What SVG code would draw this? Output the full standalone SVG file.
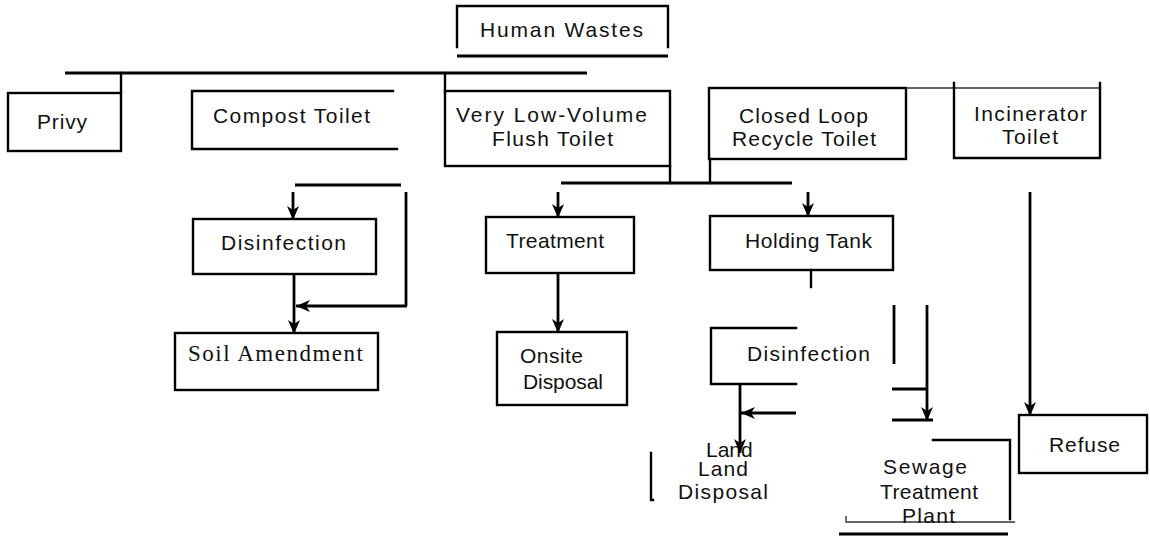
<svg xmlns="http://www.w3.org/2000/svg" width="1150" height="538" viewBox="0 0 1150 538">
<style>
  .b{fill:none;stroke:#000;stroke-width:2.4;stroke-linecap:square}
  .c{fill:none;stroke:#000;stroke-width:2.8}
  .thin{fill:none;stroke:#333;stroke-width:1.4}
  .t{font-family:"Liberation Sans",Arial,sans-serif;font-size:21px;fill:#111}
  .s{font-family:"Liberation Serif","Times New Roman",serif;font-size:23px;fill:#111}
</style>
<defs>
  <marker id="ah" viewBox="0 0 14 12" refX="14" refY="6" markerWidth="14" markerHeight="12" markerUnits="userSpaceOnUse" orient="auto">
    <path d="M0,0 L14,6 L0,12 L4,6 z" fill="#000"/>
  </marker>
</defs>
<rect width="1150" height="538" fill="#fff"/>

<g id="human-wastes">
  <path class="b" d="M457,47 V6 H668 V47"/>
  <line class="c" x1="457" y1="56" x2="668" y2="56"/>
  <text class="t" x="480" y="37" textLength="163" lengthAdjust="spacing">Human Wastes</text>
</g>
<g id="privy">
  <rect class="b" x="8" y="93" width="113" height="58"/>
  <text class="t" x="37" y="129" textLength="50" lengthAdjust="spacing">Privy</text>
</g>
<g id="compost-toilet">
  <path class="b" d="M393,91 H192 V149 H397"/>
  <text class="t" x="213" y="123" textLength="157" lengthAdjust="spacing">Compost Toilet</text>
</g>
<g id="flush-toilet">
  <rect class="b" x="445" y="91" width="225" height="75"/>
  <text class="t" x="456" y="122" textLength="191" lengthAdjust="spacing">Very Low-Volume</text>
  <text class="t" x="492" y="146" textLength="121" lengthAdjust="spacing">Flush Toilet</text>
</g>
<g id="closed-loop-toilet">
  <rect class="b" x="709" y="88" width="197" height="71"/>
  <text class="t" x="739" y="123" textLength="129" lengthAdjust="spacing">Closed Loop</text>
  <text class="t" x="732" y="146" textLength="144" lengthAdjust="spacing">Recycle Toilet</text>
</g>
<g id="incinerator-toilet">
  <line class="thin" x1="906" y1="88" x2="1100" y2="88"/>
  <path class="b" d="M954,83 V158 H1100 V83"/>
  <text class="t" x="974" y="121" textLength="113" lengthAdjust="spacing">Incinerator</text>
  <text class="t" x="1002" y="144" textLength="56" lengthAdjust="spacing">Toilet</text>
</g>
<g id="disinfection-1">
  <rect class="b" x="193" y="219" width="183" height="55"/>
  <text class="t" x="221" y="250" textLength="125" lengthAdjust="spacing">Disinfection</text>
</g>
<g id="soil-amendment">
  <rect class="b" x="175" y="333" width="203" height="57"/>
  <text class="s" x="188" y="361" textLength="175" lengthAdjust="spacing">Soil Amendment</text>
</g>
<g id="treatment">
  <rect class="b" x="486" y="217" width="148" height="56"/>
  <text class="t" x="506" y="248" textLength="98" lengthAdjust="spacing">Treatment</text>
</g>
<g id="onsite-disposal">
  <rect class="b" x="497" y="332" width="130" height="73"/>
  <text class="t" x="520" y="363" textLength="63" lengthAdjust="spacing">Onsite</text>
  <text class="t" x="523" y="389" textLength="80" lengthAdjust="spacing">Disposal</text>
</g>
<g id="holding-tank">
  <rect class="b" x="710" y="216" width="183" height="54"/>
  <text class="t" x="745" y="248" textLength="127" lengthAdjust="spacing">Holding Tank</text>
</g>
<g id="disinfection-2">
  <path class="b" d="M796,328 H711 V384 H796"/>
  <text class="t" x="747" y="361" textLength="123" lengthAdjust="spacing">Disinfection</text>
</g>
<g id="land-disposal">
  <path class="b" d="M651,453 V500 H653"/>
  <text class="t" x="706" y="457" font-size="13">Land</text>
  <text class="t" x="698" y="476" textLength="50" lengthAdjust="spacing">Land</text>
  <text class="t" x="678" y="499" textLength="90" lengthAdjust="spacing">Disposal</text>
</g>
<g id="sewage-treatment-plant">
  <path class="b" d="M933,440 H1010 V519"/>
  <path class="thin" d="M846,516 V522 H1015"/>
  <line class="c" x1="839" y1="534" x2="1008" y2="534"/>
  <text class="t" x="883" y="474" textLength="84" lengthAdjust="spacing">Sewage</text>
  <text class="t" x="880" y="499" textLength="98" lengthAdjust="spacing">Treatment</text>
  <text class="t" x="902" y="523" textLength="53" lengthAdjust="spacing">Plant</text>
</g>
<g id="refuse">
  <rect class="b" x="1019" y="415" width="128" height="58"/>
  <text class="t" x="1049" y="452" textLength="71" lengthAdjust="spacing">Refuse</text>
</g>

<g id="connectors">
  <line class="c" x1="65" y1="73" x2="587" y2="73"/>
  <line class="b" x1="121" y1="73" x2="121" y2="93"/>
  <line class="b" x1="445" y1="73" x2="445" y2="91"/>
  <line class="b" x1="670" y1="166" x2="670" y2="183"/>
  <line class="b" x1="710" y1="159" x2="710" y2="183"/>
  <line class="c" x1="561" y1="183" x2="792" y2="183"/>
  <line class="c" x1="558" y1="192" x2="558" y2="218" marker-end="url(#ah)"/>
  <line class="c" x1="808" y1="192" x2="808" y2="217" marker-end="url(#ah)"/>
  <line class="b" x1="811" y1="270" x2="811" y2="287"/>
  <line class="c" x1="558" y1="273" x2="558" y2="333" marker-end="url(#ah)"/>
  <line class="c" x1="295" y1="185" x2="401" y2="185"/>
  <line class="c" x1="293" y1="192" x2="293" y2="220" marker-end="url(#ah)"/>
  <line class="c" x1="406" y1="192" x2="406" y2="306"/>
  <line class="c" x1="407" y1="306" x2="296" y2="306" marker-end="url(#ah)"/>
  <line class="c" x1="294" y1="274" x2="294" y2="334" marker-end="url(#ah)"/>
  <line class="c" x1="1030" y1="192" x2="1030" y2="416" marker-end="url(#ah)"/>
  <line class="c" x1="894" y1="305" x2="894" y2="364"/>
  <line class="c" x1="927" y1="305" x2="927" y2="421" marker-end="url(#ah)"/>
  <line class="c" x1="892" y1="389" x2="927" y2="389"/>
  <line class="c" x1="892" y1="420" x2="933" y2="420"/>
  <line class="c" x1="740" y1="384" x2="740" y2="453" marker-end="url(#ah)"/>
  <line class="c" x1="796" y1="413" x2="741" y2="413" marker-end="url(#ah)"/>
</g>
</svg>
